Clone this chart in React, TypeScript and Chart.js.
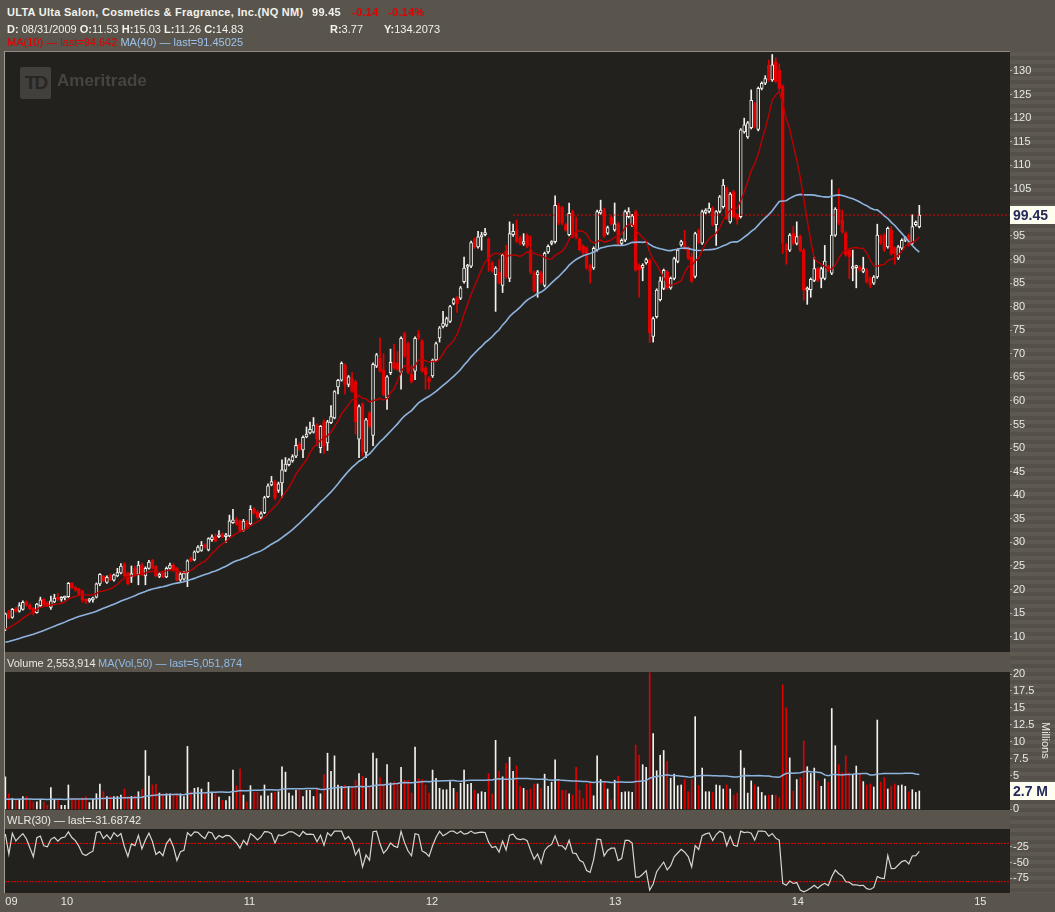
import React, { useEffect, useRef } from "react";
import { Chart, registerables } from "chart.js";
Chart.register(...registerables);

// ---------------- data (weekly bars, first week 2009-08-31) ----------------
const opens = [
  11.53, 15.3, 14.1, 15.9, 15.4, 15.8, 17.4, 16.7, 16.0, 15.1,
  16.6, 17.9, 17.2, 16.2, 17.4, 18.2, 17.9, 18.2, 18.5, 21.3,
  20.4, 20.1, 19.6, 17.9, 17.6, 17.8, 18.4, 21.2, 22.8, 21.5,
  23.0, 22.0, 22.9, 23.5, 25.4, 23.5, 22.6, 24.5, 23.2, 25.2,
  22.9, 24.5, 26.2, 24.9, 22.8, 23.6, 22.7, 24.5, 25.2, 24.5,
  22.0, 22.2, 23.5, 26.6, 26.3, 28.0, 28.3, 29.4, 28.4, 30.6,
  31.2, 31.2, 31.8, 31.2, 31.4, 34.2, 34.8, 34.6, 32.6, 34.3,
  33.9, 37.0, 36.5, 35.3, 36.3, 39.7, 42.2, 42.8, 41.0, 42.6,
  45.3, 46.5, 47.3, 48.3, 50.8, 49.6, 52.4, 53.2, 53.4, 54.9,
  50.1, 55.6, 51.1, 55.4, 56.4, 63.0, 64.4, 67.6, 63.5, 64.8,
  64.1, 51.9, 59.3, 49.1, 57.4, 52.7, 67.4, 69.1, 66.6, 60.7,
  66.0, 68.2, 68.0, 66.1, 74.3, 72.2, 65.7, 66.3, 74.3, 72.7,
  67.0, 64.9, 65.3, 68.7, 73.4, 75.8, 76.1, 76.9, 80.7, 81.9,
  81.8, 85.3, 88.4, 88.6, 94.3, 92.7, 94.8, 95.3, 94.3, 89.3,
  86.8, 87.3, 84.5, 91.8, 86.0, 95.3, 96.3, 94.6, 93.3, 95.2,
  92.0, 87.2, 86.8, 87.2, 84.5, 91.6, 93.4, 93.8, 101.4, 101.0,
  97.4, 95.3, 100.2, 95.6, 94.3, 92.8, 92.4, 88.7, 88.2, 92.1,
  99.9, 100.6, 95.6, 99.0, 96.3, 97.6, 93.4, 94.1, 99.1, 97.3,
  100.2, 88.8, 88.2, 89.3, 89.9, 73.7, 77.9, 81.5, 83.9, 87.4,
  84.0, 86.0, 89.6, 93.1, 93.8, 92.4, 90.6, 86.4, 96.2, 93.5,
  100.0, 100.2, 100.9, 97.4, 100.2, 101.2, 105.1, 98.0, 104.4, 99.5,
  99.1, 117.1, 116.0, 118.0, 123.1, 117.6, 126.3, 127.4, 131.2, 128.1,
  132.0, 130.2, 126.7, 93.1, 92.0, 95.6, 93.4, 94.9, 92.0, 83.5,
  83.6, 85.6, 88.1, 86.0, 86.0, 88.5, 87.1, 95.2, 100.7, 98.4,
  95.6, 92.0, 88.1, 88.3, 88.4, 87.5, 87.8, 86.0, 85.0, 86.3,
  94.9, 95.2, 92.7, 96.3, 92.4, 90.3, 92.4, 94.1, 95.2, 93.5,
  97.4, 97.0,
];
const highs = [
  15.03, 15.6, 16.0, 16.2, 17.2, 17.6, 17.6, 17.0, 16.2, 17.1,
  18.4, 18.1, 17.5, 18.6, 19.0, 19.2, 18.5, 18.6, 21.5, 21.5,
  20.7, 20.3, 19.9, 18.1, 18.1, 18.4, 21.4, 23.4, 23.0, 22.9,
  23.3, 23.3, 24.5, 25.5, 25.7, 23.7, 25.0, 25.0, 26.0, 25.6,
  24.8, 26.2, 26.4, 25.1, 23.6, 23.9, 24.8, 25.6, 25.5, 24.7,
  23.6, 23.8, 26.3, 26.9, 28.2, 29.3, 30.2, 29.7, 31.0, 31.6,
  31.8, 32.5, 32.0, 31.9, 35.8, 37.0, 35.3, 34.8, 34.9, 34.7,
  37.8, 37.4, 36.8, 36.5, 39.8, 42.4, 44.0, 43.2, 42.8, 47.5,
  48.0, 47.8, 48.6, 52.0, 51.2, 52.6, 54.5, 55.5, 56.5, 55.2,
  54.8, 56.0, 55.9, 59.0, 62.2, 64.6, 68.3, 67.9, 65.4, 66.0,
  64.4, 59.2, 59.6, 56.3, 57.8, 68.1, 70.1, 73.4, 70.0, 65.4,
  71.0, 72.0, 70.5, 73.6, 74.6, 72.5, 67.5, 73.6, 75.0, 73.0,
  67.3, 65.2, 68.9, 72.5, 75.8, 79.0, 77.8, 80.3, 81.8, 82.2,
  84.3, 90.5, 89.0, 93.9, 94.6, 96.0, 95.8, 96.6, 94.6, 89.6,
  88.5, 90.0, 91.3, 93.0, 98.0, 97.5, 98.4, 95.0, 95.5, 95.5,
  95.0, 87.5, 87.7, 87.5, 91.6, 93.1, 94.0, 103.5, 101.9, 101.3,
  97.7, 102.0, 100.5, 99.0, 94.6, 93.1, 92.7, 89.0, 92.7, 100.5,
  102.6, 100.9, 97.1, 99.3, 102.0, 97.9, 94.4, 100.5, 101.0, 99.6,
  100.5, 89.1, 89.1, 90.3, 90.2, 77.8, 83.8, 86.3, 88.0, 87.7,
  86.3, 90.5, 92.3, 94.1, 96.2, 92.7, 91.4, 95.8, 96.5, 100.5,
  100.8, 102.0, 101.2, 100.4, 103.6, 107.0, 105.4, 104.2, 104.7, 99.8,
  117.8, 120.0, 119.3, 126.0, 123.4, 126.6, 127.7, 129.0, 132.3, 133.5,
  132.8, 131.5, 127.0, 93.4, 95.5, 97.0, 98.0, 95.2, 92.3, 84.2,
  86.1, 90.5, 88.4, 88.4, 93.0, 88.8, 106.9, 101.0, 105.0, 100.5,
  95.9, 92.3, 92.0, 88.8, 88.7, 90.5, 88.1, 86.3, 86.6, 97.5,
  95.2, 95.5, 96.9, 97.0, 92.7, 93.0, 94.4, 94.9, 95.5, 99.5,
  98.2, 101.5,
];
const lows = [
  11.26, 13.8, 13.9, 15.2, 15.2, 15.6, 16.5, 15.7, 14.6, 15.0,
  16.4, 16.5, 16.4, 15.8, 17.2, 17.6, 17.5, 17.8, 18.3, 20.2,
  19.6, 18.7, 17.3, 17.0, 17.3, 17.3, 18.2, 20.8, 21.6, 21.3,
  21.9, 21.8, 22.7, 23.3, 22.7, 21.0, 21.5, 22.9, 21.0, 22.9,
  21.0, 24.3, 24.4, 22.7, 22.5, 22.5, 22.5, 24.2, 23.8, 21.8,
  21.7, 22.0, 20.6, 25.9, 26.1, 27.8, 28.1, 28.7, 28.2, 30.2,
  30.1, 31.0, 31.0, 30.0, 31.2, 34.0, 33.6, 32.3, 32.4, 33.2,
  33.7, 36.0, 35.0, 35.0, 36.1, 39.5, 42.0, 39.0, 40.6, 39.5,
  45.0, 46.2, 47.0, 48.0, 49.4, 48.0, 52.2, 53.0, 53.2, 50.5,
  49.0, 48.8, 49.5, 55.2, 56.2, 61.5, 64.2, 61.5, 63.0, 61.8,
  53.0, 48.0, 48.3, 48.0, 54.2, 50.5, 67.1, 66.1, 61.1, 58.2,
  65.6, 66.7, 66.4, 62.5, 69.3, 65.8, 63.8, 64.5, 73.0, 66.1,
  62.5, 62.5, 65.0, 68.4, 72.5, 75.5, 75.8, 76.6, 80.4, 78.8,
  81.5, 85.0, 84.0, 88.3, 92.4, 92.4, 92.0, 95.0, 87.5, 87.3,
  79.0, 84.8, 83.0, 86.0, 85.3, 94.9, 93.6, 93.1, 93.0, 92.5,
  87.0, 83.1, 82.0, 84.8, 84.2, 91.3, 93.1, 93.5, 97.4, 97.4,
  96.0, 95.0, 94.6, 94.4, 91.8, 91.1, 87.9, 85.0, 87.9, 91.8,
  99.6, 94.7, 95.3, 97.3, 96.0, 93.1, 93.1, 93.8, 98.8, 97.0,
  87.5, 82.0, 85.5, 89.0, 72.4, 72.5, 77.6, 81.2, 83.6, 83.7,
  83.7, 85.7, 89.3, 92.8, 92.1, 90.0, 85.1, 86.1, 93.4, 93.2,
  99.7, 99.9, 97.1, 93.0, 99.9, 100.9, 98.5, 97.7, 98.8, 97.5,
  98.8, 116.8, 115.7, 117.7, 117.9, 117.3, 126.0, 127.1, 127.8, 127.8,
  127.5, 126.0, 91.3, 89.0, 91.7, 93.1, 93.1, 91.7, 81.4, 80.5,
  82.0, 85.3, 85.3, 84.0, 85.7, 87.5, 86.8, 94.9, 97.4, 95.6,
  90.7, 86.0, 85.5, 84.0, 87.5, 87.2, 85.0, 84.0, 84.7, 86.0,
  93.2, 91.7, 92.4, 90.9, 89.0, 90.0, 92.1, 93.8, 92.8, 93.2,
  97.1, 96.7,
];
const closes = [
  14.83, 14.0, 15.8, 15.4, 16.6, 17.3, 16.8, 15.9, 15.0, 16.9,
  17.8, 16.7, 16.6, 17.6, 18.2, 17.9, 18.3, 18.4, 21.3, 20.4,
  19.9, 19.0, 17.8, 17.5, 17.9, 18.2, 21.2, 23.2, 21.9, 22.6,
  22.1, 23.1, 23.6, 25.0, 22.9, 21.2, 23.4, 23.1, 25.2, 23.1,
  24.5, 25.8, 24.6, 22.9, 23.3, 22.7, 24.5, 25.2, 24.0, 22.0,
  23.3, 23.5, 26.1, 26.1, 28.0, 29.0, 29.4, 29.0, 30.8, 31.2,
  30.3, 31.6, 31.2, 31.6, 34.6, 34.8, 33.9, 32.5, 34.5, 33.4,
  37.0, 36.3, 35.3, 36.1, 39.5, 42.0, 42.9, 39.5, 42.4, 45.4,
  46.6, 47.5, 48.2, 50.6, 49.8, 52.3, 53.0, 54.0, 54.9, 51.9,
  54.6, 50.4, 55.6, 56.7, 62.0, 64.4, 68.0, 63.5, 65.1, 62.1,
  55.6, 58.8, 49.3, 56.0, 54.7, 67.8, 69.8, 66.4, 61.4, 65.1,
  68.2, 67.0, 66.7, 73.3, 69.6, 66.1, 64.1, 73.3, 73.3, 66.4,
  65.6, 64.1, 68.6, 72.2, 75.5, 76.5, 77.5, 80.0, 81.5, 80.6,
  84.0, 88.2, 88.7, 93.6, 92.7, 94.8, 95.1, 95.5, 89.7, 87.6,
  88.2, 85.1, 91.0, 86.3, 95.5, 96.0, 93.9, 93.4, 93.8, 92.8,
  87.3, 83.4, 87.4, 85.1, 91.3, 92.8, 93.7, 101.5, 97.7, 97.7,
  96.3, 99.8, 94.9, 94.7, 92.1, 91.4, 88.2, 87.5, 92.4, 100.2,
  100.5, 95.0, 96.8, 97.6, 97.6, 93.4, 94.1, 100.2, 100.2, 99.3,
  87.8, 87.8, 88.8, 90.0, 74.5, 77.5, 83.5, 85.5, 87.7, 84.0,
  86.0, 90.2, 92.0, 93.8, 92.4, 90.3, 85.4, 95.5, 93.7, 100.2,
  100.5, 100.9, 97.4, 100.2, 103.3, 105.8, 98.8, 103.9, 99.1, 98.5,
  117.5, 118.6, 119.0, 123.8, 118.2, 126.3, 127.4, 128.4, 128.1, 131.3,
  127.8, 126.3, 93.5, 92.0, 95.2, 93.4, 94.9, 92.0, 83.5, 83.9,
  85.8, 88.1, 85.6, 88.1, 89.7, 87.8, 95.2, 100.7, 97.7, 95.9,
  91.0, 90.6, 88.5, 88.5, 87.8, 88.1, 85.3, 84.6, 86.3, 95.2,
  93.5, 92.0, 96.6, 91.2, 91.3, 92.7, 94.1, 94.6, 93.1, 97.0,
  97.9, 99.45,
];
// weekly volume, millions of shares
const volumes = [
  4.8, 2.3, 1.6, 1.3, 1.5, 1.9, 1.9, 1.3, 1.1, 1.1,
  1.5, 1.1, 0.6, 3.2, 1.5, 1.5, 0.6, 0.6, 3.6, 1.6,
  1.6, 1.3, 1.7, 1.9, 1.0, 1.5, 2.3, 3.75, 2.6, 1.9,
  1.9, 1.9, 1.9, 2.1, 3.0, 1.9, 1.9, 2.0, 2.6, 3.0,
  8.7, 4.9, 3.6, 3.75, 2.4, 2.3, 2.3, 2.3, 2.1, 2.1,
  2.3, 1.9, 9.3, 2.6, 3.1, 3.2, 3.0, 2.4, 4.0, 2.4,
  2.3, 1.8, 1.3, 1.3, 1.9, 5.8, 3.5, 6.0, 2.1, 1.1,
  3.5, 2.5, 2.5, 2.0, 3.6, 2.0, 2.4, 2.5, 2.6, 6.3,
  5.5, 2.4, 2.0, 2.8, 2.8, 1.9, 2.8, 2.8, 1.9, 3.0,
  2.3, 5.1, 8.3, 5.6, 7.9, 3.6, 3.4, 3.6, 3.4, 3.1,
  4.3, 5.3, 4.9, 4.6, 3.4, 8.3, 7.5, 4.7, 3.75, 6.6,
  3.9, 4.1, 3.9, 6.2, 4.3, 4.3, 2.4, 9.2, 4.5, 4.4,
  3.6, 2.4, 5.8, 4.6, 3.1, 2.9, 2.9, 4.1, 3.1, 2.5,
  3.85, 5.8, 3.7, 3.85, 2.8, 2.3, 2.6, 2.5, 5.3, 2.3,
  10.2, 5.6, 4.8, 6.8, 7.7, 5.6, 6.4, 3.4, 3.1, 2.8,
  3.0, 3.75, 3.75, 3.1, 5.2, 3.4, 4.0, 7.3, 4.1, 2.8,
  2.8, 2.3, 2.1, 6.2, 2.8, 1.6, 3.75, 4.0, 2.0, 7.9,
  4.4, 4.0, 3.0, 1.4, 4.3, 4.9, 2.5, 2.6, 2.6, 2.5,
  9.5, 8.0, 6.6, 6.2, 20.2, 11.2, 5.7, 8.0, 8.7, 7.1,
  4.6, 5.2, 3.5, 3.6, 4.4, 2.6, 4.4, 13.7, 3.5, 6.1,
  2.6, 2.6, 2.5, 3.6, 3.5, 3.0, 3.6, 3.0, 2.1, 2.4,
  8.7, 6.1, 2.4, 4.2, 3.6, 3.3, 2.5, 2.0, 2.1, 2.1,
  2.1, 1.7, 18.4, 15.0, 7.6, 2.7, 4.4, 4.7, 10.1, 6.3,
  5.3, 6.1, 4.2, 3.4, 4.5, 4.0, 14.9, 9.4, 6.6, 5.4,
  7.9, 5.4, 5.1, 6.4, 5.4, 4.1, 3.6, 3.75, 3.3, 13.2,
  4.0, 4.7, 3.0, 3.4, 3.75, 3.5, 3.6, 3.4, 2.6, 2.9,
  2.5, 2.7,
];
// weekly closes / volumes before the first visible bar (feed the moving averages)
const priorCloses = [
  7.0, 7.3, 7.6, 7.1, 7.3, 7.6, 7.4, 7.0, 6.6, 6.2,
  5.9, 5.5, 5.2, 5.6, 6.3, 6.9, 7.4, 7.9, 8.3, 8.6,
  8.9, 9.2, 9.0, 9.4, 9.8, 10.1, 9.7, 10.3, 10.6, 10.8,
  10.9, 11.3, 11.0, 11.4, 11.2, 11.6, 11.1, 11.3, 11.0,
];
const priorVolumes = [
  1.6, 1.2, 1.4, 1.9, 1.1, 1.3, 1.5, 1.0, 1.4, 1.7,
  1.2, 1.3, 1.6, 1.1, 1.5, 1.2, 1.4, 1.3, 1.8, 1.2,
  1.0, 1.4, 1.5, 1.2, 1.6, 1.3, 1.1, 1.4, 1.2, 1.5,
];
const yearLabels = ["09", "10", "11", "12", "13", "14", "15"];
const priceTickValues = [10, 15, 20, 25, 30, 35, 40, 45, 50, 55, 60, 65, 70, 75, 80, 85, 90, 95, 100, 105, 110, 115, 120, 125, 130];
const volumeTickValues = [0, 2.5, 5, 7.5, 10, 12.5, 15, 17.5, 20];
const wlrTickValues = [-75, -50, -25];
const wlrBands = [-20, -80];
const levelStartIndex = 145;
const firstWeekUTC = Date.UTC(2009, 7, 31);

// ---------------- look ----------------
const FRAME = "#59554c";
const PLOT_BG = "#23211e";
const UP = "#f2f2ee";
const DOWN = "#e00000";
const MA_RED = "#bc0000";
const MA_BLUE = "#8db4de";
const TEXT = "#e8e8e2";
const FONT = "'Liberation Sans', Arial, sans-serif";
const W = 1055;
const PLOT_LEFT = 5;
const AXIS_W = 45;
const VISIBLE_WEEKS = 287;
const X_MIN = -0.1;
const X_MAX = X_MIN + VISIBLE_WEEKS;

// ---------------- derived series ----------------
const idx = closes.map((_, i) => i);
const isUp = closes.map((c, i) => c >= opens[i]);

function sma(series: number[], n: number, lead: number[] = []) {
  const all = lead.concat(series);
  const off = lead.length;
  return series.map((_, i) => {
    const end = off + i;
    const start = Math.max(0, end - n + 1);
    let s = 0;
    for (let k = start; k <= end; k++) s += all[k];
    return s / (end - start + 1);
  });
}
const ma10 = sma(closes, 10, priorCloses);
const ma40 = sma(closes, 40, priorCloses);
const volMa50 = sma(volumes, 50, priorVolumes);
const wlr = closes.map((c, i) => {
  const s = Math.max(0, i - 29);
  const hh = Math.max(...highs.slice(s, i + 1));
  const ll = Math.min(...lows.slice(s, i + 1));
  return hh === ll ? -50 : ((hh - c) / (hh - ll)) * -100;
});
const yearTickPos = yearLabels.map((_, k) =>
  k === 0 ? 0 : (Date.UTC(2009 + k, 0, 1) - firstWeekUTC) / (7 * 864e5)
);

const plotBg = {
  id: "plotBg",
  beforeDraw(c: any) {
    const { ctx, chartArea: a } = c;
    ctx.save();
    ctx.fillStyle = PLOT_BG;
    ctx.fillRect(a.left, a.top, a.right - a.left, a.bottom - a.top);
    ctx.restore();
  },
};
function tagPlugin(value: number, text: string) {
  return {
    id: "tag",
    afterDraw(c: any) {
      const { ctx, chartArea: a } = c;
      const y = Math.round(c.scales.y.getPixelForValue(value));
      ctx.save();
      ctx.fillStyle = "#fdfdf0";
      ctx.fillRect(a.right, y - 9, c.width - a.right, 18);
      ctx.fillStyle = "#25295a";
      ctx.font = `bold 14px ${FONT}`;
      ctx.textBaseline = "middle";
      ctx.textAlign = "left";
      ctx.fillText(text, a.right + 3, y + 1);
      ctx.restore();
    },
  };
}

function yAxis(min: number, max: number, ticks: number[]) {
  return {
    type: "linear",
    position: "right",
    min,
    max,
    afterFit: (s: any) => {
      s.width = AXIS_W;
      s.paddingTop = 0;
      s.paddingBottom = 0;
    },
    afterBuildTicks: (s: any) => {
      s.ticks = ticks.map((v) => ({ value: v }));
    },
    grid: { drawOnChartArea: false, drawTicks: true, tickLength: 2, color: "#a8a59c" },
    border: { display: false },
    ticks: {
      color: TEXT,
      font: { family: FONT, size: 11 },
      padding: 1,
      autoSkip: false,
      callback: (v: number) => String(v),
    },
  };
}
const hiddenX = { type: "linear", min: X_MIN, max: X_MAX, offset: false, display: false };
const baseOpts = {
  responsive: false,
  animation: false,
  events: [],
  plugins: { legend: { display: false }, tooltip: { enabled: false } },
};

export default function App() {
  const priceRef = useRef<HTMLCanvasElement>(null);
  const volRef = useRef<HTMLCanvasElement>(null);
  const wlrRef = useRef<HTMLCanvasElement>(null);

  useEffect(() => {
    const charts: Chart[] = [];
    const last = closes.length - 1;

    charts.push(
      new Chart(priceRef.current as HTMLCanvasElement, {
        type: "bar",
        data: {
          datasets: [
            {
              type: "bar",
              data: idx.map((i) => ({ x: i, y: [lows[i], highs[i]] })),
              backgroundColor: isUp.map((u) => (u ? UP : DOWN)),
              barThickness: 1,
              grouped: false,
              order: 5,
            } as any,
            {
              type: "bar",
              data: idx.map((i) => ({ x: i, y: [opens[i], closes[i]] })),
              backgroundColor: isUp.map((u) => (u ? PLOT_BG : DOWN)),
              borderColor: isUp.map((u) => (u ? UP : DOWN)),
              borderWidth: 1,
              borderSkipped: false,
              barThickness: 3,
              minBarLength: 2,
              grouped: false,
              order: 4,
            } as any,
            {
              type: "line",
              data: idx.map((i) => ({ x: i, y: ma40[i] })),
              borderColor: MA_BLUE,
              borderWidth: 1.6,
              pointRadius: 0,
              order: 3,
            } as any,
            {
              type: "line",
              data: idx.map((i) => ({ x: i, y: ma10[i] })),
              borderColor: MA_RED,
              borderWidth: 1.4,
              pointRadius: 0,
              order: 2,
            } as any,
            {
              type: "line",
              data: [
                { x: levelStartIndex, y: closes[last] },
                { x: X_MAX, y: closes[last] },
              ],
              borderColor: "#ee0000",
              borderWidth: 1,
              borderDash: [2, 2],
              pointRadius: 0,
              order: 1,
            } as any,
          ],
        },
        options: {
          ...baseOpts,
          layout: { padding: { left: PLOT_LEFT, right: 0, top: 8, bottom: 8 } },
          scales: { x: hiddenX, y: yAxis(6.75, 134.03, priceTickValues) },
        } as any,
        plugins: [plotBg, tagPlugin(closes[last], closes[last].toFixed(2))],
      })
    );

    charts.push(
      new Chart(volRef.current as HTMLCanvasElement, {
        type: "bar",
        data: {
          datasets: [
            {
              type: "bar",
              data: idx.map((i) => ({ x: i, y: volumes[i] })),
              backgroundColor: isUp.map((u) => (u ? UP : DOWN)),
              barThickness: 1,
              grouped: false,
              order: 2,
            } as any,
            {
              type: "line",
              data: idx.map((i) => ({ x: i, y: volMa50[i] })),
              borderColor: MA_BLUE,
              borderWidth: 1.5,
              pointRadius: 0,
              order: 1,
            } as any,
          ],
        },
        options: {
          ...baseOpts,
          layout: { padding: { left: PLOT_LEFT, right: 0, top: 20, bottom: 19 } },
          scales: { x: hiddenX, y: yAxis(-0.1, 20.3, volumeTickValues) },
        } as any,
        plugins: [plotBg, tagPlugin(volumes[last], `${volumes[last].toFixed(1)} M`)],
      })
    );

    const xTicks = yearTickPos.concat([X_MAX]);
    charts.push(
      new Chart(wlrRef.current as HTMLCanvasElement, {
        type: "line",
        data: {
          datasets: [
            ...wlrBands.map((b) => ({
              data: [
                { x: X_MIN, y: b },
                { x: X_MAX, y: b },
              ],
              borderColor: "#e00000",
              borderWidth: 1,
              borderDash: [2, 1],
              pointRadius: 0,
              order: 2,
            })),
            {
              data: idx.map((i) => ({ x: i, y: wlr[i] })),
              borderColor: "#d6d6ce",
              borderWidth: 1.2,
              pointRadius: 0,
              order: 1,
            },
          ],
        },
        options: {
          ...baseOpts,
          layout: { padding: { left: PLOT_LEFT, right: 0, top: 10, bottom: 0 } },
          scales: {
            x: {
              type: "linear",
              min: X_MIN,
              max: X_MAX,
              offset: false,
              afterBuildTicks: (s: any) => {
                s.ticks = xTicks.map((v) => ({ value: v }));
              },
              afterFit: (s: any) => {
                s.height = 19;
                s.paddingLeft = 0;
                s.paddingRight = 0;
              },
              grid: { display: false, drawTicks: false },
              border: { display: false },
              ticks: {
                color: TEXT,
                font: { family: FONT, size: 11 },
                padding: 2,
                autoSkip: false,
                maxRotation: 0,
                align: "inner",
                callback: (_v: number, i: number) => yearLabels[i] ?? "",
              },
            },
            y: yAxis(-97.8, 2.6, wlrTickValues),
          },
        } as any,
        plugins: [plotBg],
      })
    );

    return () => charts.forEach((c) => c.destroy());
  }, []);

  const abs = (left: number, top: number, extra: React.CSSProperties = {}): React.CSSProperties => ({
    position: "absolute",
    left,
    top,
    whiteSpace: "nowrap",
    lineHeight: "15px",
    ...extra,
  });

  return (
    <div
      style={{
        position: "fixed",
        left: 0,
        top: 0,
        width: W,
        height: 912,
        background: FRAME,
        overflow: "hidden",
        fontFamily: FONT,
        fontSize: 11,
        color: "#f2f2ee",
      }}
    >
      {/* striped right axis strip */}
      <div
        style={{
          position: "absolute",
          left: 1010,
          top: 52,
          width: AXIS_W,
          height: 841,
          background: "repeating-linear-gradient(180deg, #5e5a51 0px, #5e5a51 4px, #55514a 4px, #55514a 8px)",
        }}
      />
      <canvas ref={priceRef} width={W} height={616} style={{ position: "absolute", left: 0, top: 44 }} />
      <canvas ref={volRef} width={W} height={177} style={{ position: "absolute", left: 0, top: 652 }} />
      <canvas ref={wlrRef} width={W} height={93} style={{ position: "absolute", left: 0, top: 819 }} />

      {/* frame lines */}
      <div style={{ position: "absolute", left: 5, top: 51, width: 1005, height: 1, background: "#8c8a84" }} />
      <div style={{ position: "absolute", left: 4, top: 51, width: 1, height: 842, background: "#a19f98" }} />

      {/* header */}
      <div style={abs(7, 5, { fontWeight: "bold", letterSpacing: "0.28px" })}>
        ULTA Ulta Salon, Cosmetics &amp; Fragrance, Inc.(NQ NM)
      </div>
      <div style={abs(312, 5, { fontWeight: "bold", letterSpacing: "0.3px" })}>99.45</div>
      <div style={abs(352, 5, { fontWeight: "bold", color: DOWN, letterSpacing: "0.3px" })}>-0.14</div>
      <div style={abs(388, 5, { fontWeight: "bold", color: DOWN, letterSpacing: "0.3px" })}>-0.14%</div>
      <div style={abs(7, 22)}>
        <b>D:</b> 08/31/2009 <b>O:</b>11.53 <b>H:</b>15.03 <b>L:</b>11.26 <b>C:</b>14.83
      </div>
      <div style={abs(330, 22)}>
        <b>R:</b>3.77
      </div>
      <div style={abs(384, 22)}>
        <b>Y:</b>134.2073
      </div>
      <div style={abs(7, 35)}>
        <span style={{ color: DOWN }}>MA(10) — last=94.642</span>{" "}
        <span style={{ color: "#9cc2ec" }}>MA(40) — last=91.45025</span>
      </div>

      {/* watermark */}
      <div
        style={{
          position: "absolute",
          left: 20,
          top: 67,
          width: 31,
          height: 32,
          background: "#42403c",
          borderRadius: 2,
          color: "#282623",
          fontWeight: "bold",
          fontSize: 19,
          lineHeight: "32px",
          textAlign: "center",
          letterSpacing: -2,
        }}
      >
        TD
      </div>
      <div style={abs(57, 71, { fontWeight: "bold", fontSize: 17, lineHeight: "20px", color: "#46443f" })}>Ameritrade</div>

      {/* sub-panel headers */}
      <div style={abs(7, 656, { color: TEXT })}>Volume 2,553,914</div>
      <div style={abs(98, 656, { color: "#8fbbea" })}>MA(Vol,50) — last=5,051,874</div>
      <div style={abs(7, 813, { color: TEXT })}>WLR(30) — last=-31.68742</div>
      <div
        style={{
          position: "absolute",
          left: 1040,
          top: 722,
          writingMode: "vertical-rl",
          color: TEXT,
          fontSize: 11,
        }}
      >
        Millions
      </div>
    </div>
  );
}
